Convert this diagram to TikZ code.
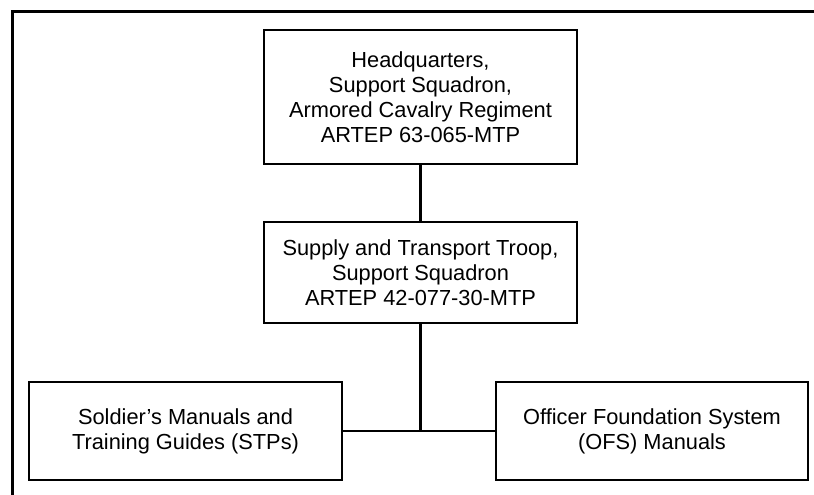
\documentclass[tikz,border=0pt]{standalone}
\usepackage{fontspec}
\setmainfont{Liberation Sans}
\begin{document}
\begin{tikzpicture}[x=1pt,y=-1pt,
  box/.style={draw=black, line width=2.5pt, rectangle, inner sep=0pt, align=center,
    font=\fontsize{21.8}{25}\selectfont},
  link/.style={draw=black, line width=2.5pt},
  frame/.style={draw=black, line width=3pt}]
\useasboundingbox (0,0) rectangle (814,495);
\draw[frame] (12,496) -- (12,12) -- (815,12);
\node[box, minimum width=313pt, minimum height=134pt] (hq) at (420.5,97)
  {Headquarters,\\Support Squadron,\\Armored Cavalry Regiment\\ARTEP 63-065-MTP};
\node[box, minimum width=313pt, minimum height=101pt] (st) at (420.5,272.5)
  {Supply and Transport Troop,\\Support Squadron\\ARTEP 42-077-30-MTP};
\node[box, minimum width=313pt, minimum height=98pt] (sm) at (185.5,431)
  {Soldier's Manuals and\\Training Guides (STPs)};
\node[box, minimum width=312pt, minimum height=98pt] (ofs) at (652,431)
  {Officer Foundation System\\(OFS) Manuals};
\draw[link] (hq.south) -- (st.north);
\draw[link] (sm.east) -- (ofs.west);
\draw[link] (st.south) -- (st.south |- sm.east);
\end{tikzpicture}
\end{document}
